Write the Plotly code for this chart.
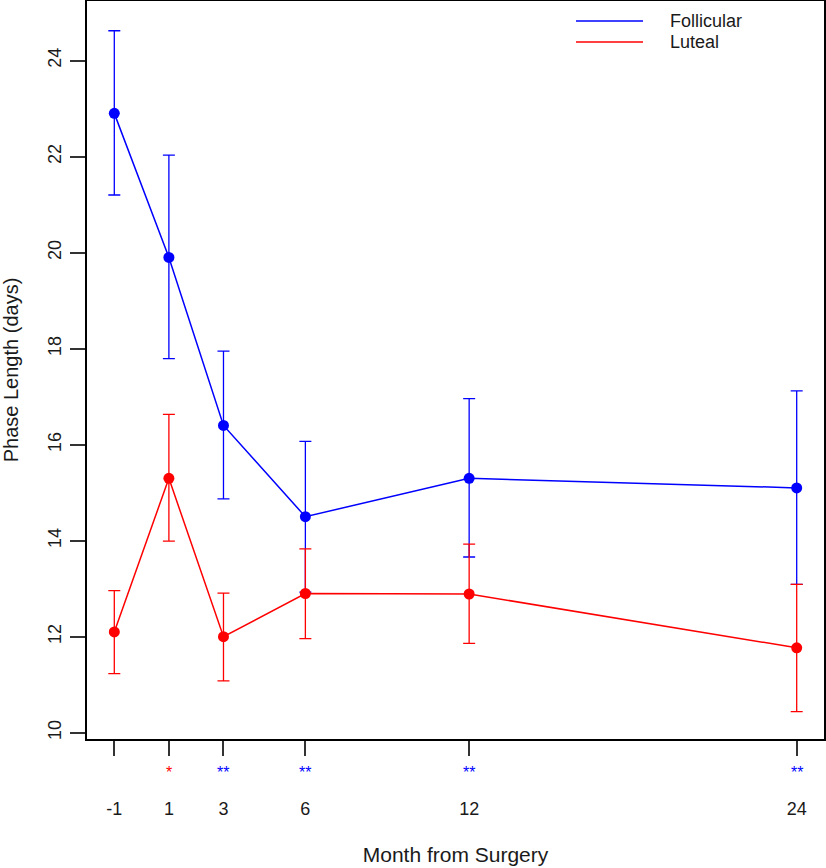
import plotly.graph_objects as go

# ---- data ----
months = [-1, 1, 3, 6, 12, 24]
month_labels = ["-1", "1", "3", "6", "12", "24"]

foll_mean = [22.9, 19.9, 16.4, 14.5, 15.3, 15.1]
foll_upper = [24.62, 22.03, 17.95, 16.07, 16.96, 17.12]
foll_lower = [21.2, 17.79, 14.87, 12.93, 13.66, 13.09]

lut_mean = [12.1, 15.3, 12.0, 12.9, 12.89, 11.77]
lut_upper = [12.96, 16.63, 12.91, 13.83, 13.93, 13.09]
lut_lower = [11.23, 13.99, 11.08, 11.96, 11.86, 10.44]

sig_marks = ["", "*", "**", "**", "**", "**"]
sig_series = ["", "Luteal", "Follicular", "Follicular", "Follicular", "Follicular"]

y_ticks = [10, 12, 14, 16, 18, 20, 22, 24]

BLUE = "#0000FF"
RED = "#FF0000"
FONT = "Liberation Sans, Arial, sans-serif"
TXT = "#1a1a1a"

fig = go.Figure()

def add_series(name, mean, upper, lower, color):
    plus = [u - m for u, m in zip(upper, mean)]
    minus = [m - l for m, l in zip(mean, lower)]
    fig.add_trace(go.Scatter(
        x=months, y=mean, name=name, mode="lines+markers",
        line=dict(color=color, width=1.5),
        marker=dict(color=color, size=11, symbol="circle"),
        error_y=dict(type="data", symmetric=False, array=plus, arrayminus=minus,
                     color=color, thickness=1.3, width=6),
        showlegend=False,
    ))

add_series("Follicular", foll_mean, foll_upper, foll_lower, BLUE)
add_series("Luteal", lut_mean, lut_upper, lut_lower, RED)

# significance stars below the x ticks
color_of = {"Follicular": BLUE, "Luteal": RED}
for m, s, ser in zip(months, sig_marks, sig_series):
    if s:
        fig.add_annotation(x=m, xref="x", y=-0.045, yref="paper",
                           text=s, showarrow=False,
                           font=dict(family=FONT, size=16, color=color_of[ser]),
                           xanchor="center", yanchor="middle")

# legend (drawn manually to match the long R legend lines)
legend_items = [("Follicular", BLUE), ("Luteal", RED)]
leg_y_px = [21, 42]
plot_top = 1
plot_h = 739 - 1
for (name, col), ypx in zip(legend_items, leg_y_px):
    yp = 1 - (ypx - plot_top) / plot_h
    x0 = (576 - 87) / (824 - 87)
    x1 = (643 - 87) / (824 - 87)
    fig.add_shape(type="line", xref="paper", yref="paper",
                  x0=x0, x1=x1, y0=yp, y1=yp, line=dict(color=col, width=1.5))
    fig.add_annotation(x=(668 - 87) / (824 - 87), xref="paper", y=yp, yref="paper",
                       text=name, showarrow=False, xanchor="left", yanchor="middle",
                       font=dict(family=FONT, size=18, color=TXT))

fig.update_layout(
    width=826, height=868,
    margin=dict(l=87, r=2, t=1, b=129, autoexpand=False),
    paper_bgcolor="white", plot_bgcolor="white",
    font=dict(family=FONT, size=18, color=TXT),
    showlegend=False,
)

fig.update_xaxes(
    range=[-2, 25], tickmode="array", tickvals=months, ticktext=month_labels,
    showgrid=False, zeroline=False, automargin=False,
    showline=True, linecolor="black", linewidth=1.5, mirror=True,
    ticks="outside", ticklen=15, tickwidth=1.5, tickcolor="#333333",
    ticklabelstandoff=38,
    tickfont=dict(family=FONT, size=18, color=TXT),
    title=dict(text="Month from Surgery", font=dict(family=FONT, size=21, color=TXT), standoff=29),
)
fig.update_yaxes(
    range=[9.87, 25.24], tickmode="array", tickvals=y_ticks,
    showgrid=False, zeroline=False, automargin=False,
    showline=True, linecolor="black", linewidth=1.5, mirror=True,
    ticks="outside", ticklen=15, tickwidth=1.5, tickcolor="#333333",
    tickangle=-90, ticklabelstandoff=2,
    tickfont=dict(family=FONT, size=18, color=TXT),
    title=dict(text="Phase Length (days)", font=dict(family=FONT, size=20, color=TXT), standoff=24),
)

fig.write_html("out.html",
               config={"displayModeBar": False},
               post_script="document.body.style.margin='0';document.body.style.overflow='hidden';")
